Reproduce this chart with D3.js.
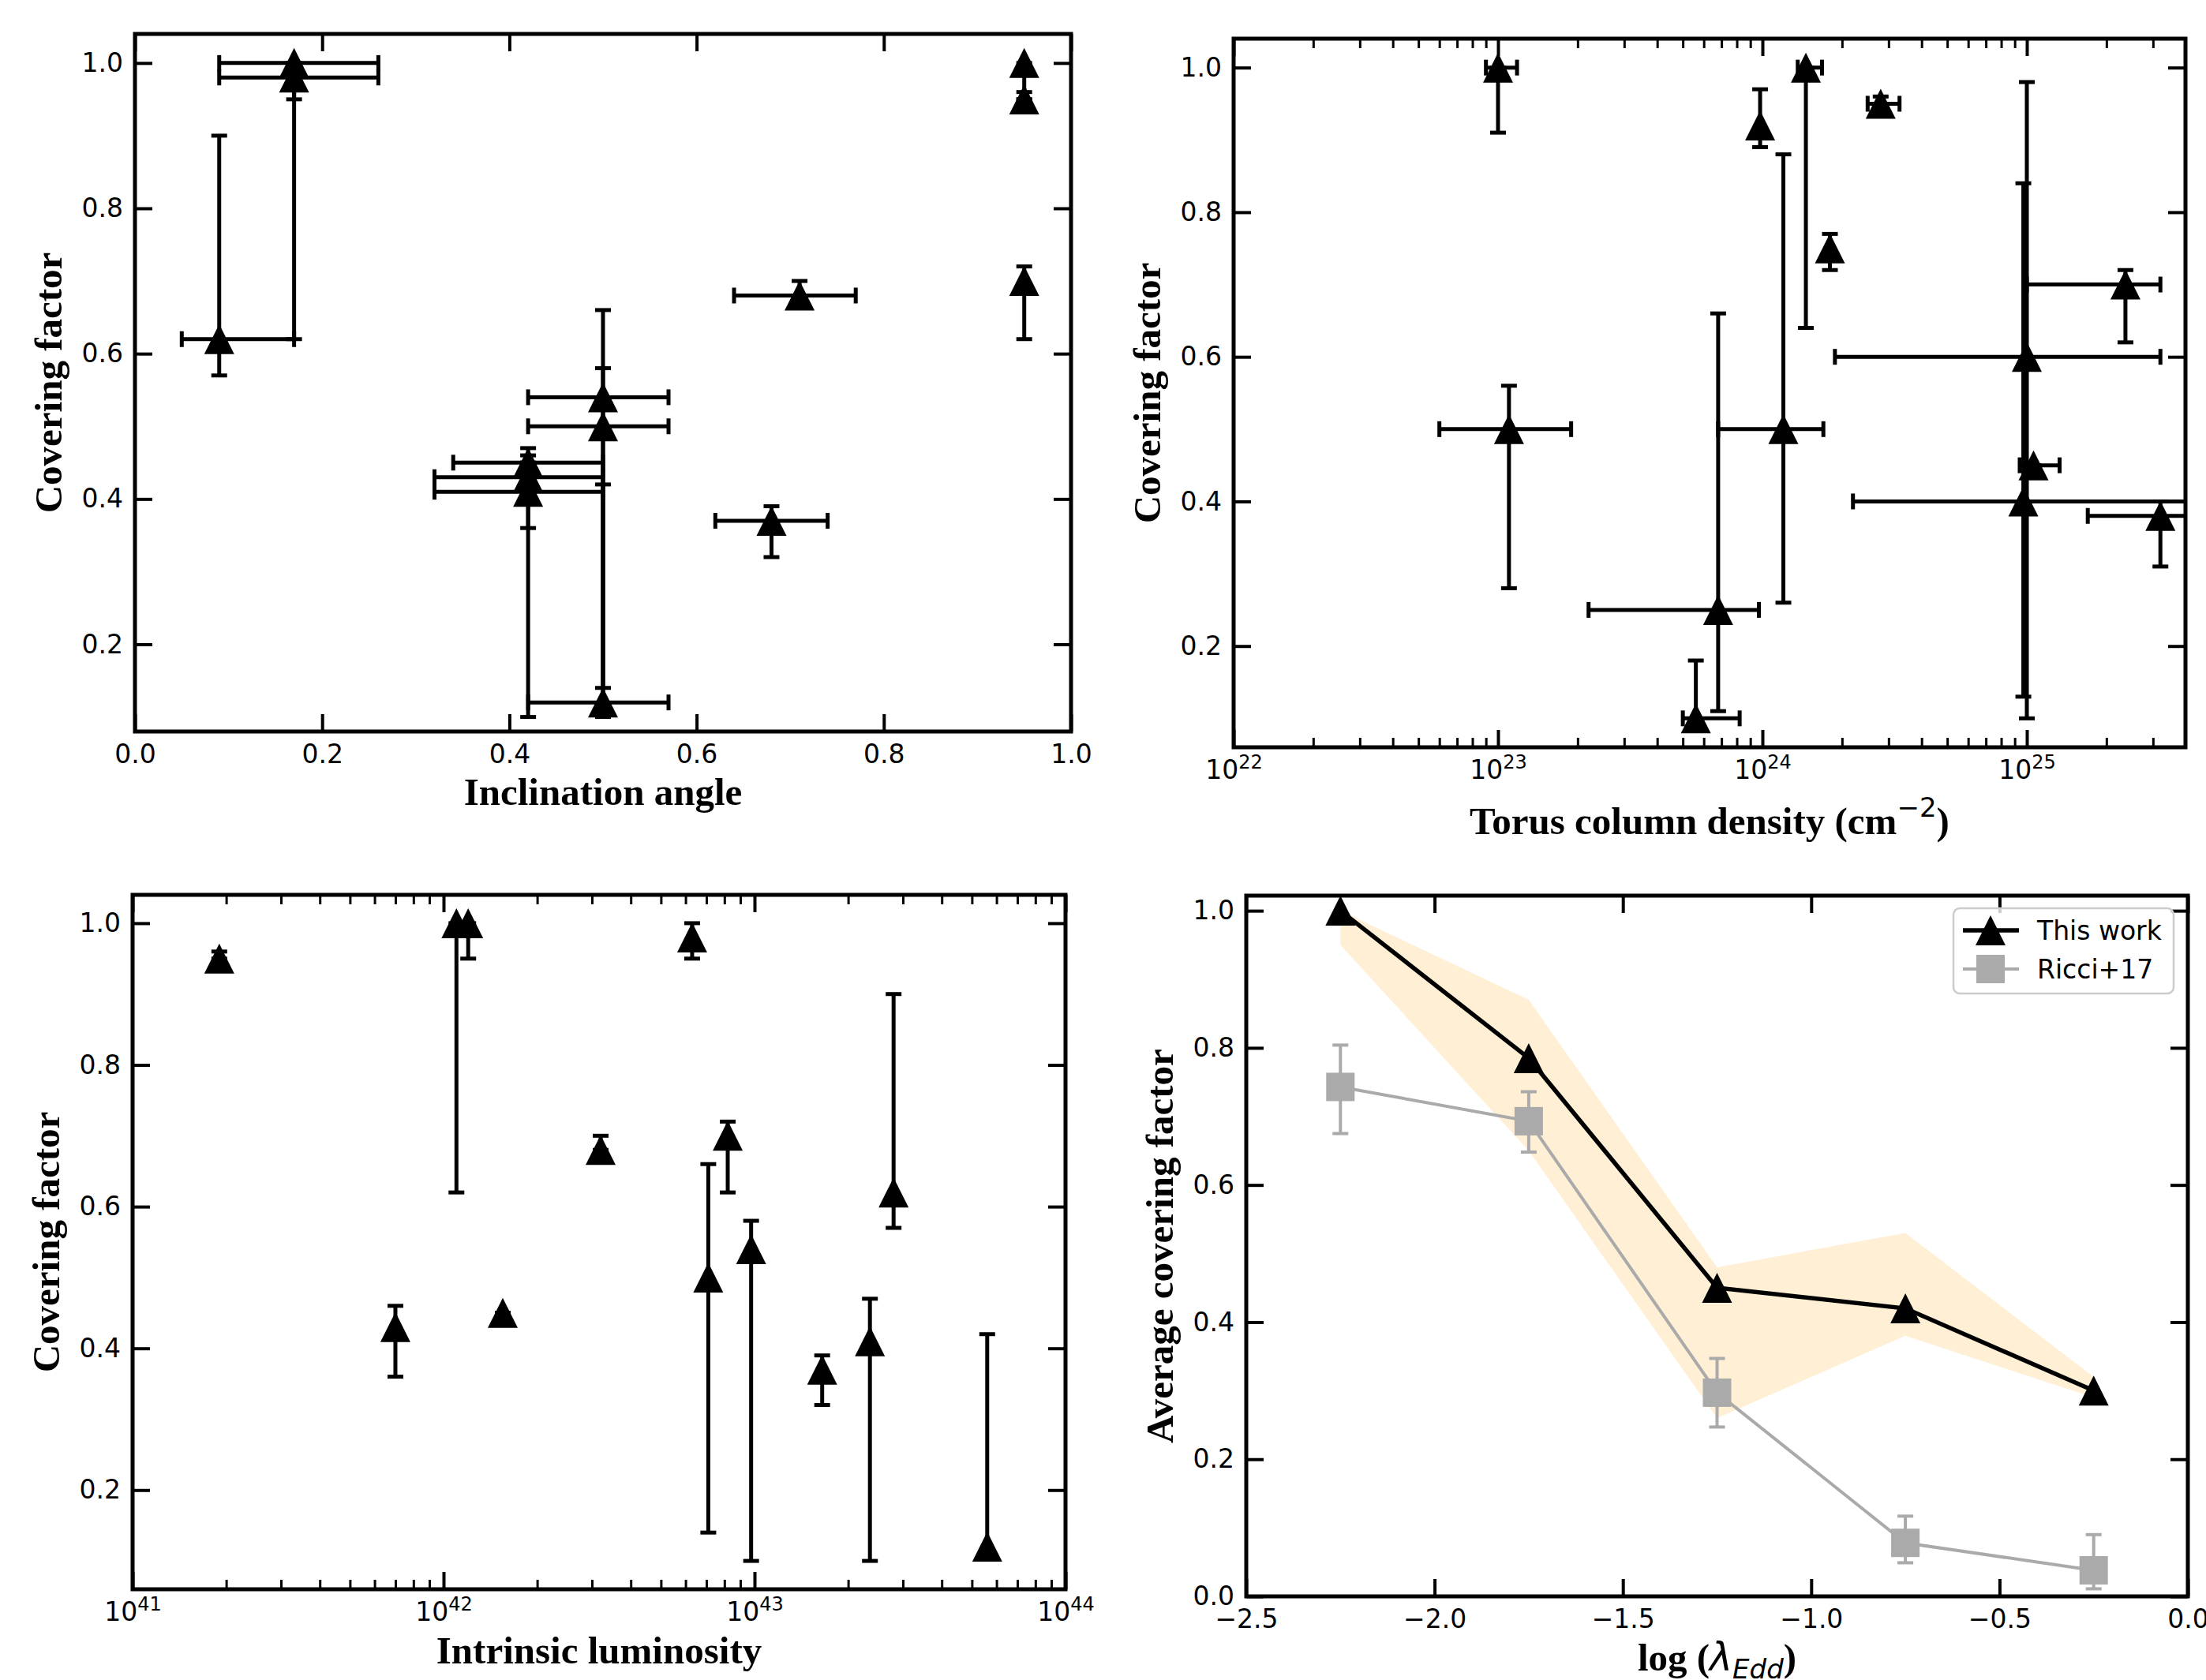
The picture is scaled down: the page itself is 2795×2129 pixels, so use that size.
<!DOCTYPE html>
<html>
<head>
<meta charset="utf-8">
<script src="https://cdn.jsdelivr.net/npm/d3@7"></script>
<style>body{margin:0;background:#fff}</style>
</head>
<body>
<svg id="chart"></svg>
<script>
// ---- panel 1: covering factor vs inclination angle
const incl   = [0.09, 0.17, 0.17, 0.95, 0.95, 0.95, 0.71, 0.68, 0.50, 0.50, 0.50, 0.42, 0.42, 0.42];
const inclLo = [0.05, 0.09, 0.09, null, null, null, 0.64, 0.62, 0.42, 0.42, 0.42, 0.34, 0.32, 0.32];
const inclHi = [0.17, 0.26, 0.26, null, null, null, 0.77, 0.74, 0.57, 0.57, 0.57, 0.50, 0.50, 0.50];
const cf1    = [0.62, 1.00, 0.98, 1.00, 0.95, 0.70, 0.68, 0.37, 0.54, 0.50, 0.12, 0.45, 0.43, 0.41];
const cf1Lo  = [0.57, 0.62, 0.95, 0.95, 0.95, 0.62, 0.68, 0.32, 0.10, 0.14, 0.11, 0.45, 0.36, 0.10];
const cf1Hi  = [0.90, 1.00, 1.00, 1.00, 0.96, 0.72, 0.70, 0.39, 0.58, 0.66, 0.42, 0.45, 0.46, 0.47];

// ---- panel 2: covering factor vs torus column density
const nh    = [1.0e23, 1.1e23, 6.8e23, 5.6e23, 9.8e23, 1.2e24, 1.46e24, 1.8e24, 2.8e24, 1.0e25, 1.06e25, 9.7e24, 2.36e25, 3.2e25];
const nhLo  = [9.0e22, 6.0e22, 2.2e23, 5.0e23, null, 6.8e23, 1.36e24, null, 2.5e24, 1.88e24, 9.4e24, 2.2e24, 1.0e25, 1.7e25];
const nhHi  = [1.18e23, 1.89e23, 9.7e23, 8.2e23, null, 1.7e24, 1.68e24, null, 3.3e24, 3.2e25, 1.33e25, 6.0e25, 3.2e25, 5.0e25];
const cf2   = [1.00, 0.50, 0.25, 0.10, 0.92, 0.50, 1.00, 0.75, 0.95, 0.60, 0.45, 0.40, 0.70, 0.38];
const cf2Lo = [0.91, 0.28, 0.11, 0.09, 0.89, 0.26, 0.64, 0.72, 0.94, 0.10, 0.45, 0.13, 0.62, 0.31];
const cf2Hi = [1.00, 0.56, 0.66, 0.18, 0.97, 0.88, 1.00, 0.77, 0.96, 0.98, 0.45, 0.84, 0.72, 0.40];

// ---- panel 3: covering factor vs intrinsic luminosity
const lum   = [1.9e41, 7.0e41, 1.1e42, 1.2e42, 1.55e42, 3.2e42, 6.3e42, 7.1e42, 8.2e42, 9.75e42, 1.65e43, 2.35e43, 2.8e43, 5.6e43];
const cf3   = [0.95, 0.43, 1.00, 1.00, 0.45, 0.68, 0.98, 0.50, 0.70, 0.54, 0.37, 0.41, 0.62, 0.12];
const cf3Lo = [0.95, 0.36, 0.62, 0.95, 0.45, 0.68, 0.95, 0.14, 0.62, 0.10, 0.32, 0.10, 0.57, 0.11];
const cf3Hi = [0.96, 0.46, 1.00, 1.00, 0.45, 0.70, 1.00, 0.66, 0.72, 0.58, 0.39, 0.47, 0.90, 0.42];

// ---- panel 4: average covering factor vs log Eddington ratio
const logEdd   = [-2.25, -1.75, -1.25, -0.75, -0.25];
const cfAvg    = [1.00, 0.785, 0.45, 0.42, 0.30];
const cfBandLo = [0.95, 0.65, 0.26, 0.38, 0.29];
const cfBandHi = [1.00, 0.87, 0.48, 0.53, 0.32];
const ricci    = [0.743, 0.693, 0.297, 0.078, 0.038];
const ricciLo  = [0.675, 0.648, 0.247, 0.049, 0.011];
const ricciHi  = [0.804, 0.736, 0.347, 0.117, 0.090];

const cfTicks = [0.2, 0.4, 0.6, 0.8, 1.0];
const legendItems = ["This work", "Ricci+17"];

const W = 2795, H = 2129;
const TICK_FONT = "DejaVu Sans, sans-serif";
const LABEL_FONT = "Liberation Serif, Times New Roman, serif";
const GRAY = "#aaaaaa";

const svg = d3.select("#chart").attr("width", W).attr("height", H);
svg.append("rect").attr("width", W).attr("height", H).attr("fill", "#fff");
const defs = svg.append("defs");

function minorLogTicks(domain) {
  const out = [];
  const k0 = Math.floor(Math.log10(domain[0]));
  const k1 = Math.ceil(Math.log10(domain[1]));
  for (let k = k0; k <= k1; k++) {
    for (let m = 2; m <= 9; m++) {
      const v = m * Math.pow(10, k);
      if (v > domain[0] && v < domain[1]) out.push(v);
    }
  }
  return out;
}

function styleAxis(a, keepText) {
  a.select(".domain").remove();
  a.attr("font-size", 33).attr("font-family", TICK_FONT);
  a.selectAll("line").attr("stroke", "#000").attr("stroke-width", 4);
  if (keepText) a.selectAll("text").attr("fill", "#000");
  else a.selectAll("text").remove();
}

// builds axes box, returns group for data
function makePanel(id, box, x, y, opt) {
  const root = svg.append("g");
  defs.append("clipPath").attr("id", id).append("rect")
    .attr("x", box.left).attr("y", box.top)
    .attr("width", box.right - box.left).attr("height", box.bottom - box.top);
  const plot = root.append("g").attr("clip-path", `url(#${id})`);
  const axes = root.append("g");

  const bottom = d3.axisBottom(x).tickValues(opt.xTicks).tickSize(-22).tickSizeOuter(0).tickPadding(17);
  const top = d3.axisTop(x).tickValues(opt.xTicks).tickSize(-22).tickSizeOuter(0);
  if (opt.log) bottom.tickFormat(() => "10");
  else bottom.tickFormat(opt.xFormat);

  const bx = axes.append("g").attr("transform", `translate(0,${box.bottom})`).call(bottom);
  const tx = axes.append("g").attr("transform", `translate(0,${box.top})`).call(top);
  styleAxis(bx, true); styleAxis(tx, false);
  if (opt.log) {
    bx.selectAll(".tick text").append("tspan")
      .attr("dy", -13).attr("font-size", 24)
      .text(d => Math.round(Math.log10(d)));
    const minors = minorLogTicks(x.domain());
    const mb = axes.append("g").attr("transform", `translate(0,${box.bottom})`)
      .call(d3.axisBottom(x).tickValues(minors).tickSize(-12).tickSizeOuter(0));
    const mt = axes.append("g").attr("transform", `translate(0,${box.top})`)
      .call(d3.axisTop(x).tickValues(minors).tickSize(-12).tickSizeOuter(0));
    styleAxis(mb, false); styleAxis(mt, false);
    mb.selectAll("line").attr("stroke-width", 3);
    mt.selectAll("line").attr("stroke-width", 3);
  }

  const ly = axes.append("g").attr("transform", `translate(${box.left},0)`)
    .call(d3.axisLeft(y).tickValues(opt.yTicks).tickSize(-22).tickSizeOuter(0).tickPadding(15).tickFormat(d3.format(".1f")));
  const ry = axes.append("g").attr("transform", `translate(${box.right},0)`)
    .call(d3.axisRight(y).tickValues(opt.yTicks).tickSize(-22).tickSizeOuter(0));
  styleAxis(ly, true); styleAxis(ry, false);

  axes.append("rect")
    .attr("x", box.left).attr("y", box.top)
    .attr("width", box.right - box.left).attr("height", box.bottom - box.top)
    .attr("fill", "none").attr("stroke", "#000").attr("stroke-width", 5);

  // y label
  axes.append("text")
    .attr("transform", `translate(${box.left - 108},${(box.top + box.bottom) / 2}) rotate(-90)`)
    .attr("text-anchor", "middle").attr("dy", "0.3em")
    .attr("font-family", LABEL_FONT).attr("font-weight", "bold").attr("font-size", 49)
    .text(opt.yLabel);

  // x label
  const xl = axes.append("text")
    .attr("x", (box.left + box.right) / 2).attr("y", box.bottom + opt.xLabelOffset)
    .attr("text-anchor", "middle")
    .attr("font-family", LABEL_FONT).attr("font-weight", "bold").attr("font-size", 49);
  opt.xLabel(xl);

  return plot;
}

function errorBars(plot, x, y, xs, ys, xLo, xHi, yLo, yHi, color, lw) {
  const g = plot.append("g").attr("stroke", color).attr("stroke-width", lw).attr("fill", "none");
  const cap = 10;
  xs.forEach((xv, i) => {
    const px = x(xv), py = y(ys[i]);
    if (yLo[i] != null) {
      const a = y(yLo[i]), b = y(yHi[i]);
      g.append("line").attr("x1", px).attr("x2", px).attr("y1", a).attr("y2", b);
      g.append("line").attr("x1", px - cap).attr("x2", px + cap).attr("y1", a).attr("y2", a);
      g.append("line").attr("x1", px - cap).attr("x2", px + cap).attr("y1", b).attr("y2", b);
    }
    if (xLo && xLo[i] != null) {
      const a = x(xLo[i]), b = x(xHi[i]);
      g.append("line").attr("x1", a).attr("x2", b).attr("y1", py).attr("y2", py);
      g.append("line").attr("x1", a).attr("x2", a).attr("y1", py - cap).attr("y2", py + cap);
      g.append("line").attr("x1", b).attr("x2", b).attr("y1", py - cap).attr("y2", py + cap);
    }
  });
}

const TRI = "M0,-19L19,19L-19,19Z";
function triangles(plot, x, y, xs, ys) {
  plot.append("g").selectAll("path").data(xs).join("path")
    .attr("d", TRI)
    .attr("transform", (d, i) => `translate(${x(d)},${y(ys[i])})`)
    .attr("fill", "#000");
}

function scatterPanel(id, box, x, xTicks, log, xs, xLo, xHi, ys, yLo, yHi, xLabel, xLabelOffset) {
  const y = d3.scaleLinear().domain(box.yDomain).range([box.bottom, box.top]);
  const plot = makePanel(id, box, x, y, {
    xTicks, yTicks: cfTicks, log, xFormat: d3.format(".1f"),
    yLabel: "Covering factor", xLabel, xLabelOffset
  });
  errorBars(plot, x, y, xs, ys, xLo, xHi, yLo, yHi, "#000", 5);
  triangles(plot, x, y, xs, ys);
}

// panel 1
const box1 = { left: 171, right: 1357, top: 43, bottom: 927, yDomain: [0.08, 1.04] };
const x1 = d3.scaleLinear().domain([0, 1]).range([box1.left, box1.right]);
scatterPanel("c1", box1, x1, [0, 0.2, 0.4, 0.6, 0.8, 1.0], false,
  incl, inclLo, inclHi, cf1, cf1Lo, cf1Hi,
  t => t.text("Inclination angle"), 93);

// panel 2
const box2 = { left: 1563, right: 2769, top: 49, bottom: 947, yDomain: [0.06, 1.04] };
const x2 = d3.scaleLog().domain([1e22, Math.pow(10, 25.6)]).range([box2.left, box2.right]);
scatterPanel("c2", box2, x2, [1e22, 1e23, 1e24, 1e25], true,
  nh, nhLo, nhHi, cf2, cf2Lo, cf2Hi,
  t => {
    t.append("tspan").text("Torus column density (cm");
    t.append("tspan").attr("dy", -22).attr("font-family", TICK_FONT).attr("font-weight", "normal")
      .attr("font-size", 34).text("\u22122");
    t.append("tspan").attr("dy", 22).text(")");
  }, 110);

// panel 3
const box3 = { left: 168, right: 1350, top: 1134, bottom: 2014, yDomain: [0.06, 1.04] };
const x3 = d3.scaleLog().domain([1e41, 1e44]).range([box3.left, box3.right]);
scatterPanel("c3", box3, x3, [1e41, 1e42, 1e43, 1e44], true,
  lum, null, null, cf3, cf3Lo, cf3Hi,
  t => t.text("Intrinsic luminosity"), 94);

// panel 4
const box4 = { left: 1579, right: 2772, top: 1135, bottom: 2023 };
const x4 = d3.scaleLinear().domain([-2.5, 0]).range([box4.left, box4.right]);
const y4 = d3.scaleLinear().domain([0, 1.022]).range([box4.bottom, box4.top]);
const plot4 = makePanel("c4", box4, x4, y4, {
  xTicks: [-2.5, -2.0, -1.5, -1.0, -0.5, 0.0], yTicks: [0, 0.2, 0.4, 0.6, 0.8, 1.0],
  log: false, xFormat: d3.format(".1f"),
  yLabel: "Average covering factor", xLabelOffset: 94,
  xLabel: t => {
    t.append("tspan").text("log (");
    t.append("tspan").attr("font-family", TICK_FONT).attr("font-weight", "normal")
      .attr("font-style", "italic").text("\u03bb");
    t.append("tspan").attr("dy", 10).attr("font-family", TICK_FONT).attr("font-weight", "normal")
      .attr("font-style", "italic").attr("font-size", 34).text("Edd");
    t.append("tspan").attr("dy", -10).text(")");
  }
});

plot4.append("path")
  .datum(logEdd)
  .attr("d", d3.area().x(d => x4(d)).y0((d, i) => y4(cfBandLo[i])).y1((d, i) => y4(cfBandHi[i])))
  .attr("fill", "#ffefd5");

plot4.append("path")
  .datum(logEdd)
  .attr("d", d3.line().x(d => x4(d)).y((d, i) => y4(cfAvg[i])))
  .attr("fill", "none").attr("stroke", "#000").attr("stroke-width", 5.5);
triangles(plot4, x4, y4, logEdd, cfAvg);

errorBars(plot4, x4, y4, logEdd, ricci, null, null, ricciLo, ricciHi, GRAY, 4);
plot4.append("path")
  .datum(logEdd)
  .attr("d", d3.line().x(d => x4(d)).y((d, i) => y4(ricci[i])))
  .attr("fill", "none").attr("stroke", GRAY).attr("stroke-width", 4);
plot4.append("g").selectAll("rect").data(logEdd).join("rect")
  .attr("x", d => x4(d) - 18).attr("y", (d, i) => y4(ricci[i]) - 18)
  .attr("width", 36).attr("height", 36).attr("fill", GRAY);

// legend
const legend = svg.append("g").attr("transform", "translate(2475,1151)");
legend.append("rect").attr("width", 279).attr("height", 108).attr("rx", 8)
  .attr("fill", "#fff").attr("fill-opacity", 0.8).attr("stroke", "#cccccc").attr("stroke-width", 2.5);
legendItems.forEach((name, i) => {
  const ly = 28 + i * 49;
  const color = i === 0 ? "#000" : GRAY;
  legend.append("line").attr("x1", 12).attr("x2", 83).attr("y1", ly).attr("y2", ly)
    .attr("stroke", color).attr("stroke-width", i === 0 ? 5.5 : 4);
  if (i === 0) {
    legend.append("path").attr("d", TRI).attr("transform", `translate(47,${ly})`).attr("fill", "#000");
  } else {
    legend.append("rect").attr("x", 29).attr("y", ly - 18).attr("width", 36).attr("height", 36).attr("fill", GRAY);
  }
  legend.append("text").attr("x", 106).attr("y", ly).attr("dy", "0.35em")
    .attr("font-family", TICK_FONT).attr("font-size", 33).text(name);
});
</script>
</body>
</html>
